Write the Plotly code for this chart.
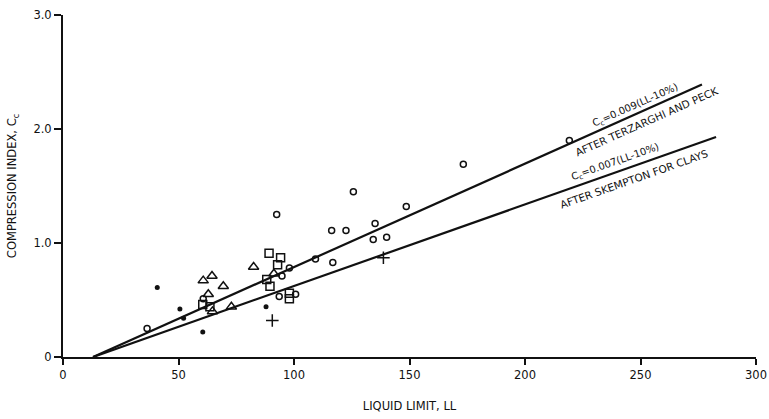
import plotly.graph_objects as go

# values (liquid limit %, compression index)
dots_ll = [40.8, 50.6, 52.2, 60.5, 87.9]
dots_cc = [0.61, 0.42, 0.34, 0.22, 0.44]

circles_ll = [36.4, 60.7, 92.5, 94.8, 98.0, 93.6, 100.7, 109.3, 116.8, 116.3,
              122.5, 125.7, 134.3, 135.1, 140.1, 148.6, 173.3, 219.2]
circles_cc = [0.25, 0.51, 1.25, 0.71, 0.78, 0.53, 0.55, 0.86, 0.83, 1.11,
              1.11, 1.45, 1.03, 1.17, 1.05, 1.32, 1.69, 1.90]

triangles_ll = [60.7, 64.5, 69.4, 62.9, 64.7, 72.9, 82.5, 91.3]
triangles_cc = [0.67, 0.71, 0.62, 0.55, 0.40, 0.44, 0.79, 0.73]

squares_ll = [60.5, 63.6, 89.2, 94.2, 92.9, 88.2, 89.6, 98.0, 98.0]
squares_cc = [0.46, 0.44, 0.91, 0.87, 0.81, 0.68, 0.62, 0.56, 0.51]

plus_ll = [90.6, 138.7]
plus_cc = [0.32, 0.87]

# correlation lines as drawn
terzaghi_ll = [13.0, 276.6]
terzaghi_cc = [0.0, 2.39]
skempton_ll = [13.0, 282.7]
skempton_cc = [0.0, 1.93]

x_ticks = [0, 50, 100, 150, 200, 250, 300]
y_ticks = [0, 1.0, 2.0, 3.0]
y_tick_text = ["0", "1.0", "2.0", "3.0"]

FONT = "DejaVu Sans"
INK = "#111111"

fig = go.Figure()

fig.add_trace(go.Scatter(x=terzaghi_ll, y=terzaghi_cc, mode="lines",
                         line=dict(color=INK, width=2.2)))
fig.add_trace(go.Scatter(x=skempton_ll, y=skempton_cc, mode="lines",
                         line=dict(color=INK, width=2.2)))

fig.add_trace(go.Scatter(x=circles_ll, y=circles_cc, mode="markers",
                         marker=dict(symbol="circle-open", size=6, color=INK,
                                     line=dict(width=1.5))))
fig.add_trace(go.Scatter(x=triangles_ll, y=triangles_cc, mode="markers",
                         marker=dict(symbol="triangle-up-open", size=9, color=INK,
                                     line=dict(width=1.5))))
fig.add_trace(go.Scatter(x=squares_ll, y=squares_cc, mode="markers",
                         marker=dict(symbol="square-open", size=8, color=INK,
                                     line=dict(width=1.5))))
fig.add_trace(go.Scatter(x=dots_ll, y=dots_cc, mode="markers",
                         marker=dict(symbol="circle", size=5, color=INK)))
fig.add_trace(go.Scatter(x=plus_ll, y=plus_cc, mode="markers",
                         marker=dict(symbol="cross-thin", size=9, color=INK,
                                     line=dict(width=1.5, color=INK))))

formula_font = dict(family=FONT, size=10, color=INK)
source_font = dict(family=FONT, size=10.5, color=INK)
fig.add_annotation(x=248, y=2.21, text="C<sub>c</sub>=0.009(LL-10%)",
                   textangle=-24, showarrow=False, font=formula_font,
                   xanchor="center", yanchor="middle")
fig.add_annotation(x=253, y=2.07, text="AFTER TERZARGHI AND PECK",
                   textangle=-24, showarrow=False, font=source_font,
                   xanchor="center", yanchor="middle")
fig.add_annotation(x=239, y=1.71, text="C<sub>c</sub>=0.007(LL-10%)",
                   textangle=-19.5, showarrow=False, font=formula_font,
                   xanchor="center", yanchor="middle")
fig.add_annotation(x=247, y=1.56, text="AFTER SKEMPTON FOR CLAYS",
                   textangle=-19.5, showarrow=False, font=source_font,
                   xanchor="center", yanchor="middle")

fig.update_xaxes(range=[0, 300], tickvals=x_ticks, ticks="outside", ticklen=6,
                 tickwidth=2, tickcolor=INK, showline=True, linecolor=INK,
                 linewidth=2, showgrid=False, zeroline=False, automargin=False,
                 tickfont=dict(family=FONT, size=11.5, color=INK),
                 title=dict(text="LIQUID LIMIT, LL", standoff=21,
                            font=dict(family=FONT, size=11.5, color=INK)))
fig.update_yaxes(range=[0, 3.0], tickvals=y_ticks, ticktext=y_tick_text,
                 ticks="outside", ticklen=7, tickwidth=2, tickcolor=INK,
                 showline=True, linecolor=INK, linewidth=2, showgrid=False,
                 zeroline=False, automargin=False,
                 tickfont=dict(family=FONT, size=11.5, color=INK),
                 title=dict(text="COMPRESSION INDEX, C<sub>c</sub>", standoff=14,
                            font=dict(family=FONT, size=11.5, color=INK)))

fig.update_layout(width=769, height=419, showlegend=False,
                  margin=dict(l=63, r=13, t=15, b=62),
                  plot_bgcolor="white", paper_bgcolor="white")

# drop the browser's default page margin so the figure sits at the corner
fig.write_html("out.html", config={"displayModeBar": False},
               post_script="document.body.style.margin='0';")
